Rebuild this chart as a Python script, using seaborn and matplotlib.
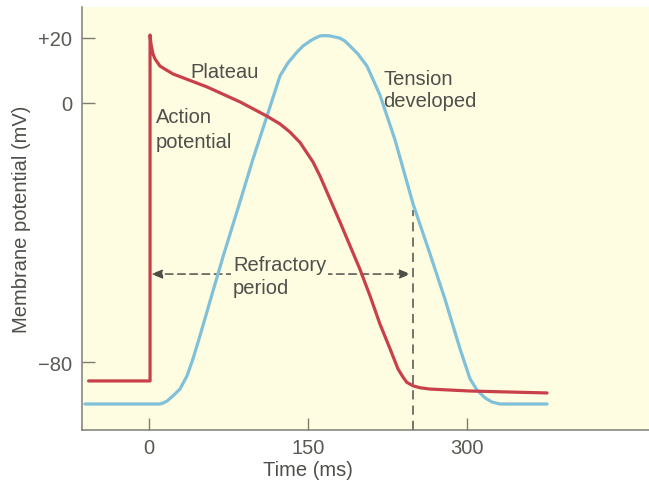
import matplotlib
matplotlib.use("Agg")
import matplotlib.pyplot as plt
import seaborn as sns
import pandas as pd

# action potential (red): time in ms, membrane potential in mV
ap_time = [-57, 1, 1, 1.9, 3.8, 5.7, 10.4, 22.6, 54.7, 85.8, 111.3, 123.6, 133.0, 142.5,
           154.7, 161.3, 180.2, 199.1, 208.5, 217.9, 227.4, 234.9, 239.6, 243.1, 249.1,
           255.7, 265.1, 302.8, 375.5]
ap_mv = [-85.7, -85.7, 20.8, 18.0, 14.9, 13.4, 11.2, 8.8, 4.8, 0.2, -4.2, -6.6, -9.1, -12.3,
         -18.3, -22.6, -36.8, -51.4, -59.5, -68.2, -75.8, -82.0, -84.5, -86.1, -87.2,
         -87.8, -88.2, -88.8, -89.4]

# tension developed (blue), drawn against the same axis
tension_time = [-60.4, 10.4, 13.2, 17.0, 22.6, 29.2, 35.8, 41.5, 48.1, 60.4, 69.8, 85.8,
                98.1, 111.3, 123.6, 131.1, 139.6, 145.3, 151.9, 156.6, 161.3, 166.0,
                170.8, 180.2, 184.9, 189.6, 197.2, 205.7, 217.9, 232.1, 249.1, 265.1,
                279.2, 293.4, 302.8, 309.4, 317.0, 323.6, 331.1, 375.5]
tension_mv = [-92.8, -92.8, -92.5, -91.9, -90.3, -88.2, -84.2, -78.9, -71.8, -58.0, -47.5,
              -30.6, -17.4, -4.2, 8.2, 12.2, 15.5, 17.4, 18.9, 19.8, 20.5, 20.6,
              20.5, 19.8, 18.9, 17.4, 14.9, 11.2, 2.3, -11.5, -31.2, -46.6,
              -60.5, -75.8, -85.0, -88.5, -90.9, -92.2, -92.8, -92.8]

x_ticks = [0, 150, 300]
y_ticks = [-80, 0, 20]
y_tick_labels = ["\u221280", "0", "+20"]

refractory_start = 2
refractory_end = 247
refractory_level = -52.8
refractory_line_x = 249
refractory_line_top = -33

RED = "#c8404a"
BLUE = "#80c0d8"
BG = "#fefde2"
TEXT = "#4f4f4a"
AXIS = "#7d7d72"

sns.set_theme(style="ticks")
plt.rcParams["font.family"] = ["Liberation Sans", "DejaVu Sans"]

fig = plt.figure(figsize=(6.49, 4.85), dpi=100)
ax = fig.add_axes([82 / 649, 1 - 431 / 485, (649 - 82) / 649, (431 - 8) / 485])
ax.set_facecolor(BG)

ap = pd.DataFrame({"time": ap_time, "mv": ap_mv})
tension = pd.DataFrame({"time": tension_time, "mv": tension_mv})

sns.lineplot(data=tension, x="time", y="mv", sort=False, estimator=None,
             color=BLUE, linewidth=2.3, ax=ax, zorder=3)
sns.lineplot(data=ap, x="time", y="mv", sort=False, estimator=None,
             color=RED, linewidth=2.3, ax=ax, zorder=4)
for line in ax.lines:
    line.set_solid_joinstyle("round")

ax.set_xlim(-63.2, 471.7)
ax.set_ylim(-100.8, 29.4)

# refractory period
ylo = ax.get_ylim()[0]
ax.vlines(refractory_line_x, ylo, refractory_line_top, colors=TEXT,
          linestyles=(0, (6, 4)), linewidth=1.1, zorder=2)
ax.annotate("", xy=(refractory_end, refractory_level),
            xytext=(refractory_start, refractory_level),
            arrowprops=dict(arrowstyle="<|-|>,head_length=0.55,head_width=0.22",
                            color=TEXT, linestyle=(0, (5, 3)), linewidth=1.1,
                            shrinkA=0, shrinkB=0), zorder=2)

fs = 14.5
ax.text(38.7, 7.8, "Plateau", fontsize=fs, color=TEXT, zorder=5)
ax.text(6.6, -6.0, "Action", fontsize=fs, color=TEXT, zorder=5)
ax.text(6.6, -13.7, "potential", fontsize=fs, color=TEXT, zorder=5)
ax.text(220.8, 5.7, "Tension", fontsize=fs, color=TEXT, zorder=5)
ax.text(220.8, -1.2, "developed", fontsize=fs, color=TEXT, zorder=5)
ax.text(79.2, -51.4, "Refractory", fontsize=fs, color=TEXT, zorder=5,
        bbox=dict(facecolor=BG, edgecolor="none", pad=1.5))
ax.text(79.2, -58.6, "period", fontsize=fs, color=TEXT, zorder=5)

ax.set_xticks(x_ticks)
ax.set_yticks(y_ticks)
ax.set_yticklabels(y_tick_labels)
ax.tick_params(direction="in", length=9, width=1, colors=AXIS, labelcolor="#5a5a55",
               labelsize=14.5)
ax.tick_params(axis="y", pad=7)
ax.tick_params(axis="x", pad=6)

ax.set_xlabel("Time (ms)", fontsize=14.5, color=TEXT, labelpad=3)
ax.xaxis.set_label_coords((308 - 82) / (649 - 82), -0.07)
ax.set_ylabel("Membrane potential (mV)", fontsize=14.5, color=TEXT, labelpad=5)

sns.despine(ax=ax)
for side in ["left", "bottom"]:
    ax.spines[side].set_color(AXIS)
    ax.spines[side].set_linewidth(1.1)

fig.savefig("out.png", dpi=100, facecolor="white")
